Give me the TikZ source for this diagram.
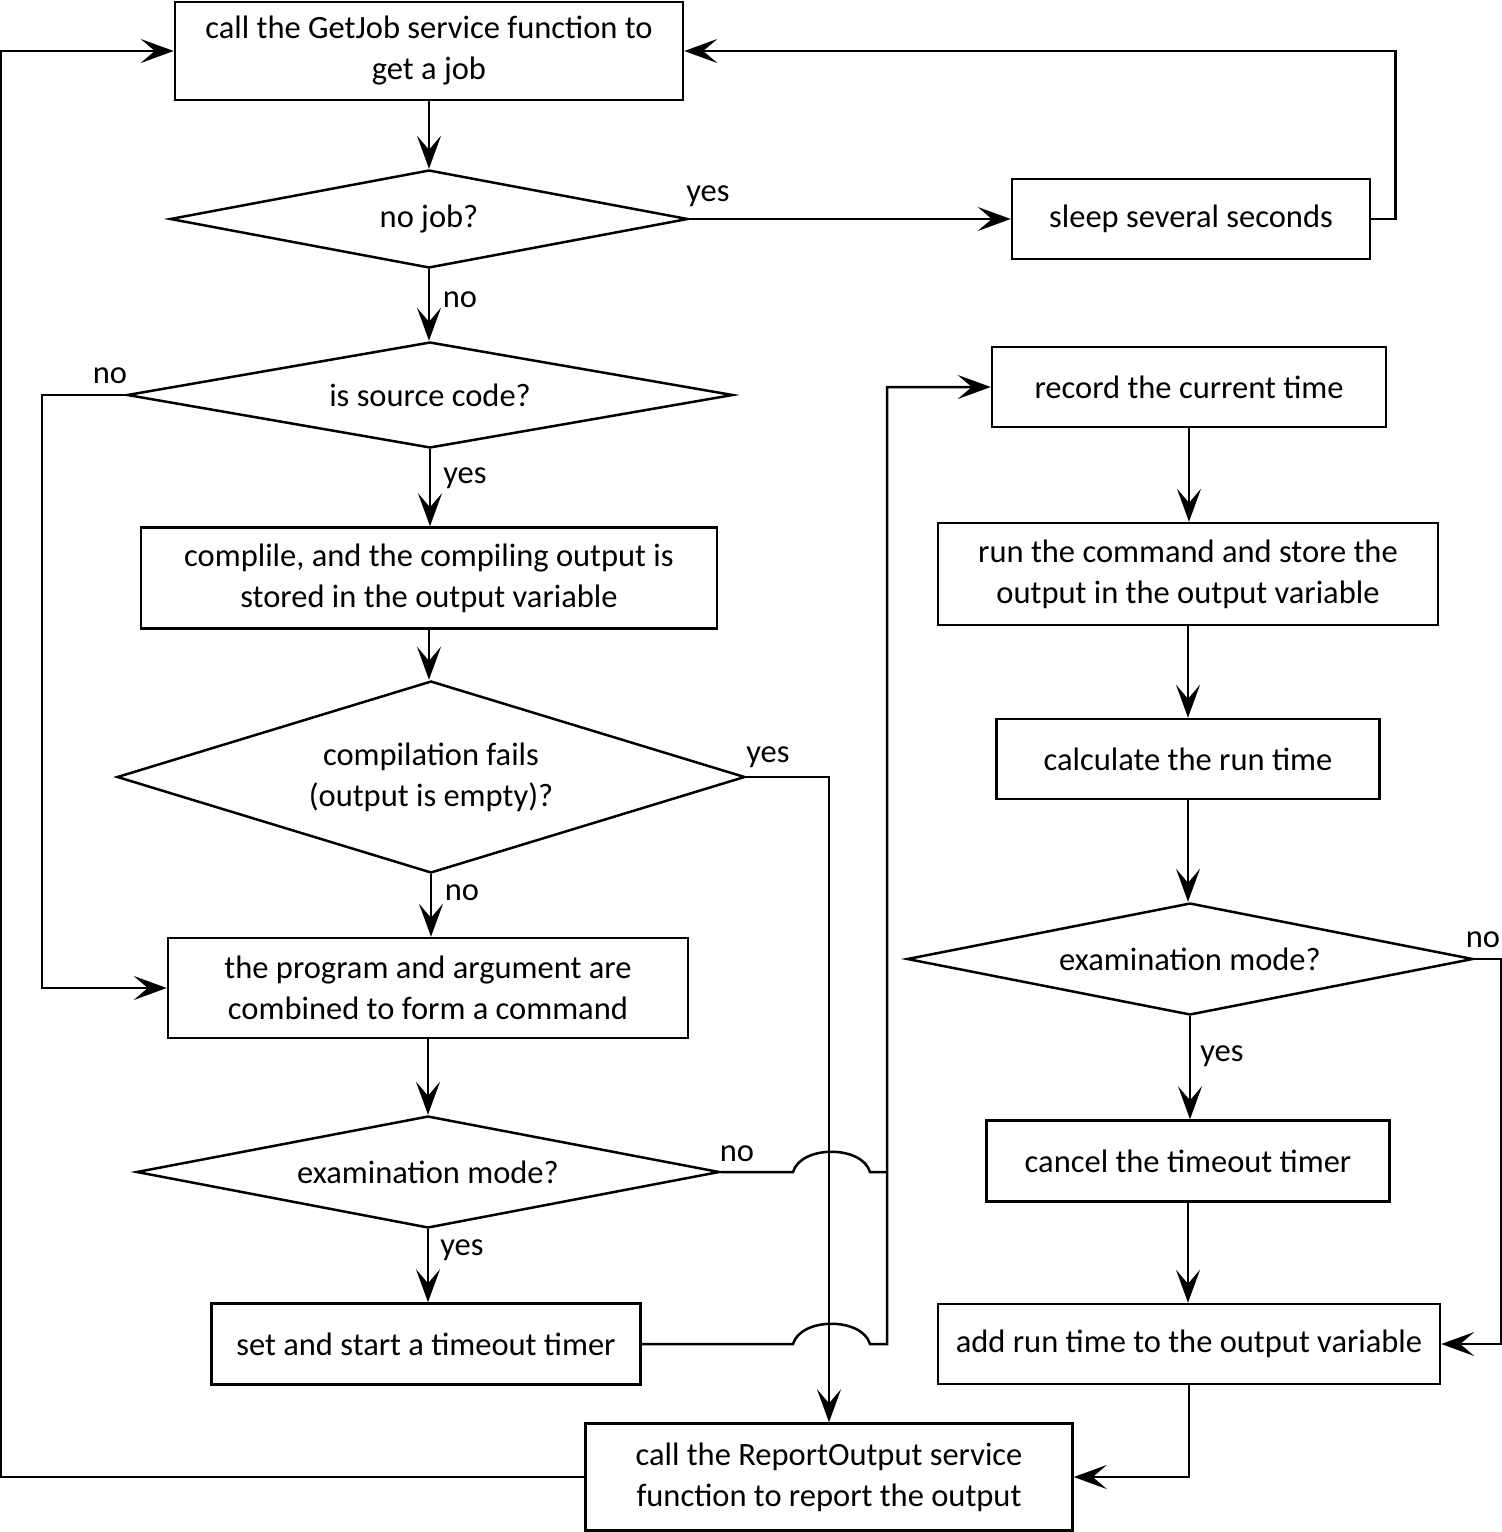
\documentclass[tikz,border=0pt]{standalone}
\usepackage{fontspec}
\setmainfont{Carlito}
\usetikzlibrary{arrows.meta,shapes.geometric}
\begin{document}
\begin{tikzpicture}[x=1pt,y=-1pt, line width=2.5pt,
  font=\fontsize{32.5}{41}\selectfont,
  box/.style={draw, rectangle, inner sep=0pt, align=center},
  dec/.style={draw, diamond, inner sep=0pt, align=center, aspect=5},
  arr/.style={-{Stealth[length=33pt,width=24pt,inset=14pt]}},
  lab/.style={inner sep=0pt}]
\useasboundingbox (0,0) rectangle (1502,1532);
% left column
\node[box, minimum width=508pt, minimum height=98pt] (getjob) at (429,51) {call the GetJob service function to\\get a job};
\node[dec, minimum width=518pt, minimum height=98pt] (nojob) at (429,219) {no job?};
\node[box, minimum width=358pt, minimum height=80pt] (sleep) at (1191,219) {sleep several seconds};
\node[dec, minimum width=606pt, minimum height=106pt] (src) at (430,395) {is source code?};
\node[box, minimum width=576pt, minimum height=101pt] (compile) at (429,578) {complile, and the compiling output is\\stored in the output variable};
\node[dec, aspect=3.2, minimum width=628pt, minimum height=192pt] (fails) at (431,777) {compilation fails\\(output is empty)?};
\node[box, minimum width=520pt, minimum height=100pt] (prog) at (428,988) {the program and argument are\\combined to form a command};
\node[dec, minimum width=583pt, minimum height=112pt] (exam1) at (428,1172) {examination mode?};
\node[box, minimum width=429pt, minimum height=81pt] (timer) at (426,1344) {set and start a timeout timer};
\node[box, minimum width=487pt, minimum height=107pt] (report) at (829,1477) {call the ReportOutput service\\function to report the output};
% right column
\node[box, minimum width=394pt, minimum height=80pt] (record) at (1189,387) {record the current time};
\node[box, minimum width=500pt, minimum height=102pt] (runcmd) at (1188,574) {run the command and store the\\output in the output variable};
\node[box, minimum width=383pt, minimum height=80pt] (calc) at (1188,759) {calculate the run time};
\node[dec, minimum width=566pt, minimum height=112pt] (exam2) at (1190,959) {examination mode?};
\node[box, minimum width=403pt, minimum height=81pt] (cancel) at (1188,1161) {cancel the timeout timer};
\node[box, minimum width=502pt, minimum height=80pt] (addrt) at (1189,1344) {add run time to the output variable};
% coordinates for the bus and line jumps
\coordinate (busx) at (887,0);
\coordinate (jA1) at (793,1172);
\coordinate (jA2) at (870,1172);
\coordinate (jB1) at (793,1344);
\coordinate (jB2) at (870,1344);
% connectors
\draw[arr] (getjob.south) -- (nojob.north);
\draw[arr] (nojob.east) -- (sleep.west);
\draw[arr] (sleep.east) -- ++(24,0) |- (getjob.east);
\draw[arr] (nojob.south) -- (nojob.south |- src.north);
\draw[arr] (src.west) -- ++(-84,0) |- (prog.west);
\draw[arr] (src.south) -- (src.south |- compile.north);
\draw[arr] (compile.south) -- (compile.south |- fails.north);
\draw[arr] (fails.east) -| (report.north);
\draw[arr] (fails.south) -- (fails.south |- prog.north);
\draw[arr] (prog.south) -- (exam1.north);
\draw[arr] (exam1.south) -- (exam1.south |- timer.north);
\draw (exam1.east) -- (jA1) .. controls +(8,-27) and +(-8,-27) .. (jA2) -- (busx |- jA2);
\draw[arr] (timer.east) -- (jB1) .. controls +(8,-27) and +(-8,-27) .. (jB2) -- (busx |- jB2) -- (busx |- record.west) -- (record.west);
\draw[arr] (record.south) -- (runcmd.north -| record.south);
\draw[arr] (runcmd.south) -- (calc.north);
\draw[arr] (calc.south) -- (calc.south |- exam2.north);
\draw[arr] (exam2.east) -- ++(27,0) |- (addrt.east);
\draw[arr] (exam2.south) -- (exam2.south |- cancel.north);
\draw[arr] (cancel.south) -- (cancel.south |- addrt.north);
\draw[arr] (addrt.south) |- (report.east);
\draw[arr] (report.west) -- ++(-584,0) |- (getjob.west);
% labels
\node[lab] (l1) at (708,196) {yes};
\node[lab] (l2) at (460,300) {no};
\node[lab] (l3) at (110,376) {no};
\node[lab] (l4) at (465,478) {yes};
\node[lab] (l5) at (768,757) {yes};
\node[lab] (l6) at (462,893) {no};
\node[lab] (l7) at (737,1154) {no};
\node[lab] (l8) at (462,1250) {yes};
\node[lab] (l9) at (1483,940) {no};
\node[lab] (l10) at (1222,1056) {yes};
\end{tikzpicture}
\end{document}
